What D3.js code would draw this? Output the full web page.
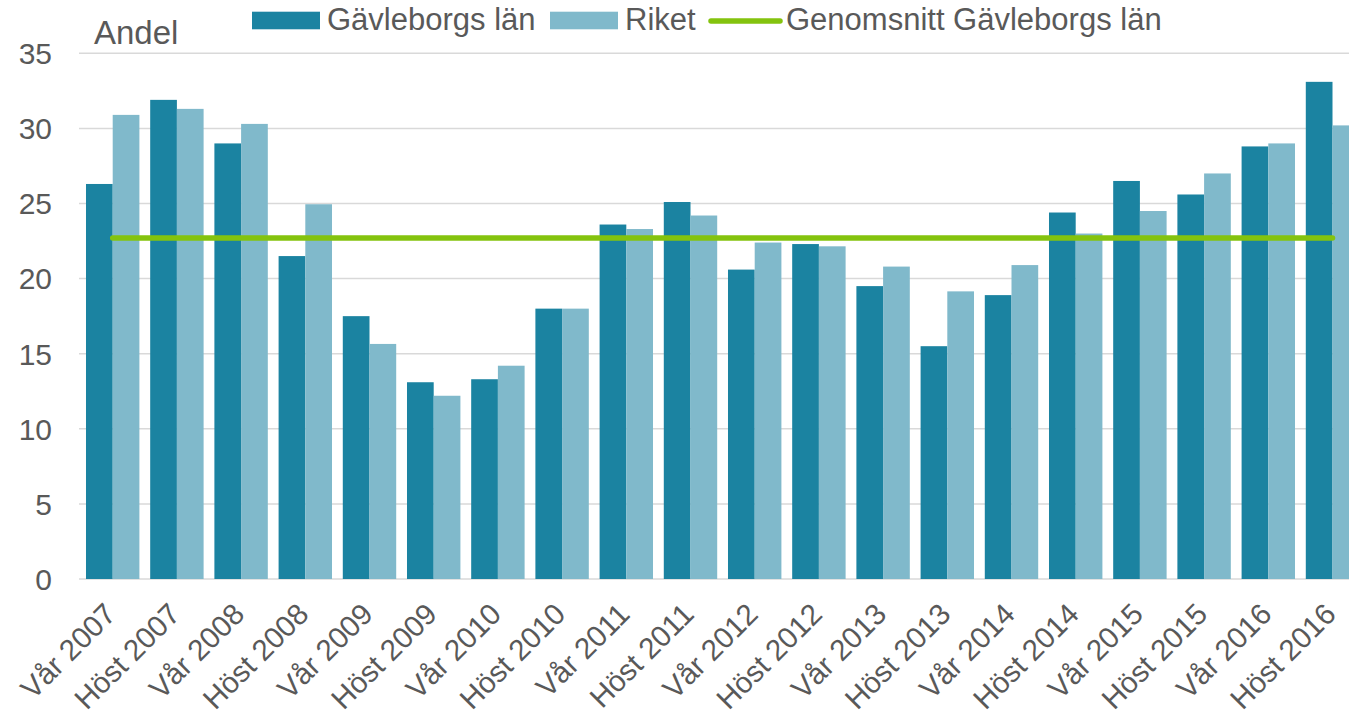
<!DOCTYPE html>
<html>
<head>
<meta charset="utf-8">
<script src="https://cdn.jsdelivr.net/npm/d3@7"></script>
<style>
  body { margin: 0; background: #fff; }
  text { font-family: "Liberation Sans", Arial, sans-serif; fill: #595959; }
</style>
</head>
<body>
<svg width="1349" height="721"></svg>
<script>
// data
var categories = ["Vår 2007", "Höst 2007", "Vår 2008", "Höst 2008", "Vår 2009", "Höst 2009",
  "Vår 2010", "Höst 2010", "Vår 2011", "Höst 2011", "Vår 2012", "Höst 2012", "Vår 2013",
  "Höst 2013", "Vår 2014", "Höst 2014", "Vår 2015", "Höst 2015", "Vår 2016", "Höst 2016"];
var gavleborg = [26.3, 31.9, 29.0, 21.5, 17.5, 13.1, 13.3, 18.0, 23.6, 25.1,
  20.6, 22.3, 19.5, 15.5, 18.9, 24.4, 26.5, 25.6, 28.8, 33.1];
var riket = [30.9, 31.3, 30.3, 24.95, 15.65, 12.2, 14.2, 18.0, 23.3, 24.2,
  22.4, 22.15, 20.8, 19.15, 20.9, 23.0, 24.5, 27.0, 29.0, 30.2];
var genomsnitt = 22.7;
var yTicks = [0, 5, 10, 15, 20, 25, 30, 35];
var seriesNames = ["Gävleborgs län", "Riket", "Genomsnitt Gävleborgs län"];

var colDark = "#1b83a1", colLight = "#80b9cb", colGreen = "#84c30e";

var svg = d3.select("svg");
var plotLeft = 80.6, plotRight = 1364.6, plotTop = 53.3, plotBottom = 579;

var x = d3.scaleBand().domain(categories).range([plotLeft, plotRight]).paddingInner(0.168).paddingOuter(0.084);
var xs = d3.scaleBand().domain([0, 1]).range([0, x.bandwidth()]);
var y = d3.scaleLinear().domain([0, 35]).range([plotBottom, plotTop]);

// gridlines
svg.append("g")
  .selectAll("line")
  .data(yTicks)
  .enter().append("line")
  .attr("x1", 79).attr("x2", 1349)
  .attr("y1", function(d) { return y(d); })
  .attr("y2", function(d) { return y(d); })
  .attr("stroke", "#d9d9d9")
  .attr("stroke-width", 1.5);

// y labels
svg.append("g")
  .selectAll("text")
  .data(yTicks)
  .enter().append("text")
  .attr("x", 52)
  .attr("y", function(d) { return y(d); })
  .attr("dy", "0.36em")
  .attr("text-anchor", "end")
  .style("font-size", "30px")
  .text(function(d) { return d; });

svg.append("text")
  .attr("x", 94).attr("y", 44)
  .style("font-size", "33px")
  .text("Andel");

// bars
var groups = svg.append("g")
  .selectAll("g")
  .data(categories)
  .enter().append("g")
  .attr("transform", function(d) { return "translate(" + x(d) + ",0)"; });

groups.append("rect")
  .attr("x", xs(0)).attr("width", xs.bandwidth())
  .attr("y", function(d, i) { return y(gavleborg[i]); })
  .attr("height", function(d, i) { return y(0) - y(gavleborg[i]); })
  .attr("fill", colDark);

groups.append("rect")
  .attr("x", xs(1)).attr("width", xs.bandwidth())
  .attr("y", function(d, i) { return y(riket[i]); })
  .attr("height", function(d, i) { return y(0) - y(riket[i]); })
  .attr("fill", colLight);

// average line
svg.append("line")
  .attr("x1", x(categories[0]) + x.bandwidth() / 2)
  .attr("x2", x(categories[categories.length - 1]) + x.bandwidth() / 2)
  .attr("y1", y(genomsnitt)).attr("y2", y(genomsnitt))
  .attr("stroke", colGreen)
  .attr("stroke-width", 5.5)
  .attr("stroke-linecap", "round");

// x labels
svg.append("g")
  .selectAll("text")
  .data(categories)
  .enter().append("text")
  .attr("transform", function(d) {
    return "translate(" + (x(d) + x.bandwidth() / 2 + 5) + ",616) rotate(-45)";
  })
  .attr("text-anchor", "end")
  .style("font-size", "29.5px")
  .text(function(d) { return d; });

// legend (positions as in the original)
var legendX = [252, 550, 709];
var legend = svg.append("g");
seriesNames.forEach(function(name, i) {
  var lx = legendX[i];
  if (i < 2) {
    legend.append("rect")
      .attr("x", lx).attr("y", 11.7).attr("width", 68).attr("height", 17.6)
      .attr("fill", i == 0 ? colDark : colLight);
  } else {
    legend.append("line")
      .attr("x1", lx + 2).attr("x2", lx + 71)
      .attr("y1", 21).attr("y2", 21)
      .attr("stroke", colGreen).attr("stroke-width", 5.5)
      .attr("stroke-linecap", "round");
  }
  legend.append("text")
    .attr("x", lx + (i < 2 ? 75 : 77)).attr("y", 30)
    .style("font-size", "31px")
    .text(name);
});
</script>
</body>
</html>
